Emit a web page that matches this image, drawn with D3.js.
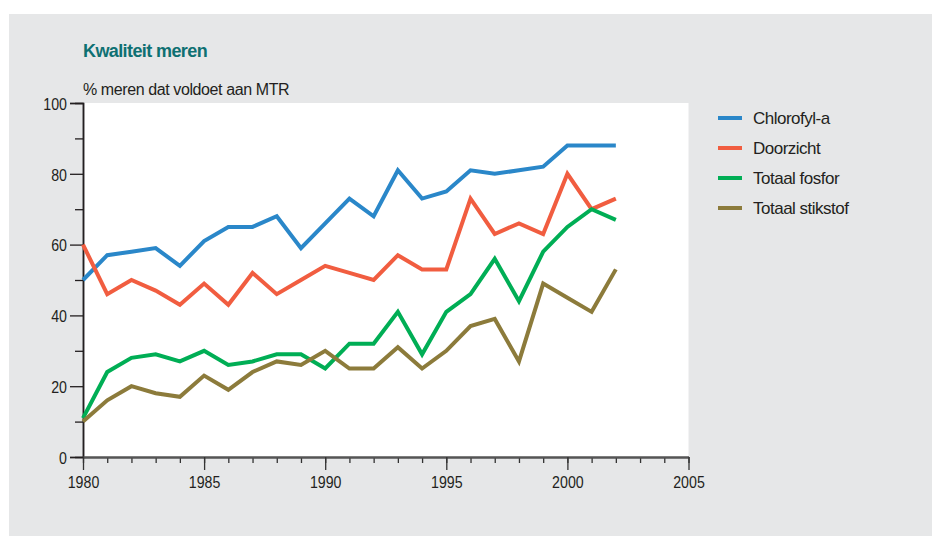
<!doctype html>
<html>
<head>
<meta charset="utf-8">
<style>
    body { margin: 0; background: #fff; }
    svg text { font-family: "Liberation Sans", Arial, sans-serif; fill: #231f20; }
</style>
<script src="https://d3js.org/d3.v7.min.js"></script>
</head>
<body>
<svg width="932" height="536"></svg>
<script>
    // data
    var years = d3.range(1980, 2003);
    var chlorofyl = [50, 57, 58, 59, 54, 61, 65, 65, 68, 59, 66, 73, 68, 81, 73, 75, 81, 80, 81, 82, 88, 88, 88];
    var doorzicht = [60, 46, 50, 47, 43, 49, 43, 52, 46, 50, 54, 52, 50, 57, 53, 53, 73, 63, 66, 63, 80, 70, 73];
    var fosfor    = [11, 24, 28, 29, 27, 30, 26, 27, 29, 29, 25, 32, 32, 41, 29, 41, 46, 56, 44, 58, 65, 70, 67];
    var stikstof  = [10, 16, 20, 18, 17, 23, 19, 24, 27, 26, 30, 25, 25, 31, 25, 30, 37, 39, 27, 49, 45, 41, 53];
    var seriesNames = ["Chlorofyl-a", "Doorzicht", "Totaal fosfor", "Totaal stikstof"];
    var yTicks = [0, 20, 40, 60, 80, 100];
    var xTicks = [1980, 1985, 1990, 1995, 2000, 2005];

    var series = [
        { name: seriesNames[0], values: chlorofyl, color: "#2a87c9" },
        { name: seriesNames[1], values: doorzicht, color: "#f15d40" },
        { name: seriesNames[2], values: fosfor, color: "#00ae55" },
        { name: seriesNames[3], values: stikstof, color: "#8c7b3b" }
    ];

    var svg = d3.select("svg");
    var plotLeft = 83, plotRight = 688.5, plotTop = 103, plotBottom = 457;
    var squeeze = 0.86; // tick labels in the original are a bit narrow

    svg.append("rect")
       .attr("x", 9).attr("y", 14)
       .attr("width", 932 - 9).attr("height", 536 - 14)
       .attr("fill", "#e6e7e8");

    svg.append("rect")
       .attr("x", plotLeft).attr("y", plotTop)
       .attr("width", plotRight - plotLeft).attr("height", plotBottom - plotTop)
       .attr("fill", "#fff");

    svg.append("text")
       .attr("x", 83).attr("y", 57)
       .attr("font-size", "18px")
       .attr("font-weight", "bold")
       .attr("letter-spacing", "-0.6px")
       .style("fill", "#0e7072")
       .text("Kwaliteit meren");

    svg.append("text")
       .attr("x", 83).attr("y", 95)
       .attr("font-size", "16px")
       .attr("letter-spacing", "-0.4px")
       .text("% meren dat voldoet aan MTR");

    var x = d3.scaleLinear().domain([1980, 2005]).range([plotLeft, plotRight]);
    var y = d3.scaleLinear().domain([0, 100]).range([plotBottom, plotTop]);

    // y axis: major ticks every 20, minor every 10
    var yAxis = svg.append("g").attr("transform", "translate(" + plotLeft + ",0)");
    yAxis.call(d3.axisLeft(y).tickValues(d3.range(10, 100, 20)).tickSize(8).tickFormat(""));
    yAxis.append("g").call(d3.axisLeft(y).tickValues(yTicks).tickSize(13).tickFormat(d3.format("d")));
    yAxis.selectAll(".domain").attr("stroke", "#231f20").attr("stroke-width", 1.5);
    yAxis.selectAll(".tick line").attr("stroke", "#231f20").attr("stroke-width", 1.3);
    yAxis.selectAll("text")
         .attr("font-size", "16.5px")
         .attr("font-family", "Liberation Sans, Arial, sans-serif")
         .attr("fill", "#231f20")
         .attr("x", -16 / squeeze)
         .attr("dy", "0.38em")
         .attr("transform", "scale(" + squeeze + ",1)");

    // x axis: major ticks every 5 years, minor every year
    var xAxis = svg.append("g").attr("transform", "translate(0," + plotBottom + ")");
    xAxis.call(d3.axisBottom(x).tickValues(d3.range(1980, 2006)).tickSize(6).tickSizeOuter(0).tickFormat(""));
    xAxis.append("g").call(d3.axisBottom(x).tickValues(xTicks).tickSize(13).tickSizeOuter(0).tickFormat(d3.format("d")));
    xAxis.selectAll(".domain").attr("stroke", "#555").attr("stroke-width", 2);
    xAxis.selectAll(".tick line").attr("stroke", "#333").attr("stroke-width", 1.3);
    xAxis.selectAll("text")
         .attr("font-size", "16.5px")
         .attr("font-family", "Liberation Sans, Arial, sans-serif")
         .attr("fill", "#231f20")
         .attr("y", 31)
         .attr("dy", 0)
         .attr("transform", "scale(" + squeeze + ",1)");

    var line = d3.line()
        .x(function(d, i) { return x(years[i]); })
        .y(function(d) { return y(d); });

    svg.selectAll(".series")
       .data(series)
       .enter().append("path")
       .attr("class", "series")
       .attr("d", function(d) { return line(d.values); })
       .attr("fill", "none")
       .attr("stroke", function(d) { return d.color; })
       .attr("stroke-width", 4)
       .attr("stroke-linejoin", "miter");

    var legend = svg.selectAll(".legend")
        .data(series)
        .enter().append("g")
        .attr("class", "legend")
        .attr("transform", function(d, i) { return "translate(718," + (118 + i * 30) + ")"; });

    legend.append("line")
          .attr("x1", 0).attr("x2", 24)
          .attr("stroke", function(d) { return d.color; })
          .attr("stroke-width", 4);

    legend.append("text")
          .attr("x", 35).attr("y", 6)
          .attr("font-size", "17px")
          .attr("letter-spacing", "-0.5px")
          .text(function(d) { return d.name; });
</script>
</body>
</html>
